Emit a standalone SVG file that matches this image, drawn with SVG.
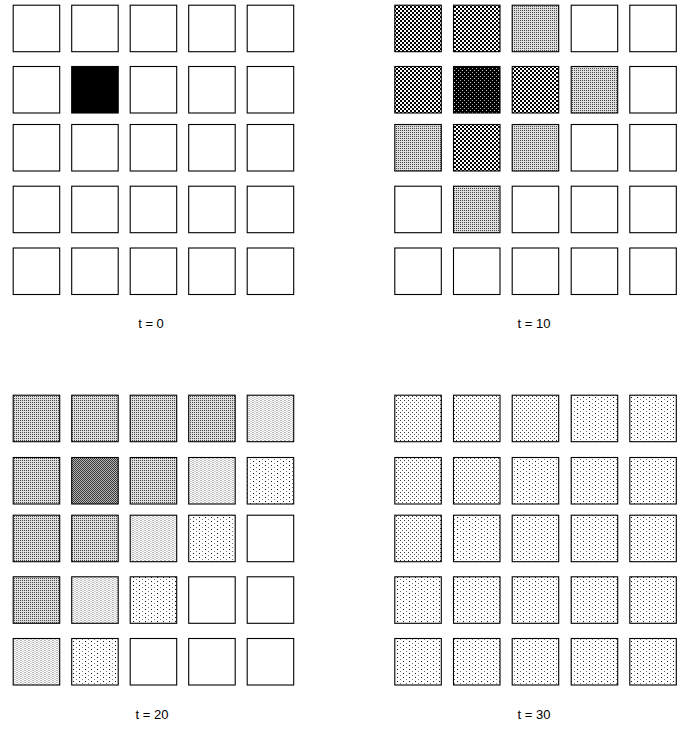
<svg xmlns="http://www.w3.org/2000/svg" width="694" height="730" viewBox="0 0 694 730">
<style>
rect.c{stroke:#000;stroke-width:1.1;}
.w{fill:#fff}.k{fill:#000}
.C{fill:url(#pC)}.V{fill:url(#pV)}.M{fill:url(#pM)}.D{fill:url(#pD)}.L{fill:url(#pL)}.S{fill:url(#pS)}.E{fill:url(#pE)}
text{font-family:"Liberation Sans",Arial,sans-serif;font-size:13px;fill:#000;text-anchor:middle}
</style>
<defs>
<pattern id="pC" width="4" height="4" patternUnits="userSpaceOnUse"><rect width="4" height="4" fill="#fff"/><rect width="2" height="2" fill="#000"/><rect x="2" y="2" width="2" height="2" fill="#000"/></pattern>
<pattern id="pV" width="4" height="4" patternUnits="userSpaceOnUse"><rect width="4" height="4" fill="#000"/><rect width="1" height="1" fill="#aaa"/><rect x="2" y="2" width="1" height="1" fill="#ccc"/></pattern>
<pattern id="pM" width="2" height="2" patternUnits="userSpaceOnUse"><rect width="2" height="2" fill="#dedede"/><rect width="1" height="1" fill="#4a4a4a"/></pattern>
<pattern id="pD" width="2" height="2" patternUnits="userSpaceOnUse"><rect width="2" height="2" fill="#b4b4b4"/><rect width="1" height="1" fill="#3a3a3a"/><rect x="1" y="1" width="1" height="1" fill="#3a3a3a"/></pattern>
<pattern id="pL" width="4" height="2" patternUnits="userSpaceOnUse"><rect width="4" height="2" fill="#fff"/><rect width="2" height="1" fill="#b8b8b8"/><rect x="2" y="1" width="2" height="1" fill="#d0d0d0"/></pattern>
<pattern id="pS" width="6" height="4" patternUnits="userSpaceOnUse"><rect width="6" height="4" fill="#fff"/><rect x="1" y="1" width="1" height="1" fill="#111"/><rect x="4" y="3" width="1" height="1" fill="#777"/></pattern>
<pattern id="pE" width="4" height="4" patternUnits="userSpaceOnUse"><rect width="4" height="4" fill="#fff"/><rect width="1" height="1" fill="#333"/><rect x="2" y="2" width="1" height="1" fill="#555"/></pattern>
</defs>

<g id="panel-t0">
<rect class="c w" x="13.2" y="5.2" width="46.5" height="46.5"/><rect class="c w" x="71.7" y="5.2" width="46.5" height="46.5"/><rect class="c w" x="130.2" y="5.2" width="46.5" height="46.5"/><rect class="c w" x="188.7" y="5.2" width="46.5" height="46.5"/><rect class="c w" x="247.2" y="5.2" width="46.5" height="46.5"/>
<rect class="c w" x="13.2" y="66.5" width="46.5" height="46.5"/><rect class="c k" x="71.7" y="66.5" width="46.5" height="46.5"/><rect class="c w" x="130.2" y="66.5" width="46.5" height="46.5"/><rect class="c w" x="188.7" y="66.5" width="46.5" height="46.5"/><rect class="c w" x="247.2" y="66.5" width="46.5" height="46.5"/>
<rect class="c w" x="13.2" y="124.5" width="46.5" height="46.5"/><rect class="c w" x="71.7" y="124.5" width="46.5" height="46.5"/><rect class="c w" x="130.2" y="124.5" width="46.5" height="46.5"/><rect class="c w" x="188.7" y="124.5" width="46.5" height="46.5"/><rect class="c w" x="247.2" y="124.5" width="46.5" height="46.5"/>
<rect class="c w" x="13.2" y="186.2" width="46.5" height="46.5"/><rect class="c w" x="71.7" y="186.2" width="46.5" height="46.5"/><rect class="c w" x="130.2" y="186.2" width="46.5" height="46.5"/><rect class="c w" x="188.7" y="186.2" width="46.5" height="46.5"/><rect class="c w" x="247.2" y="186.2" width="46.5" height="46.5"/>
<rect class="c w" x="13.2" y="248" width="46.5" height="46.5"/><rect class="c w" x="71.7" y="248" width="46.5" height="46.5"/><rect class="c w" x="130.2" y="248" width="46.5" height="46.5"/><rect class="c w" x="188.7" y="248" width="46.5" height="46.5"/><rect class="c w" x="247.2" y="248" width="46.5" height="46.5"/>
<text x="151" y="328">t = 0</text>
</g>

<g id="panel-t10">
<rect class="c C" x="394.8" y="5.2" width="46.5" height="46.5"/><rect class="c C" x="453.5" y="5.2" width="46.5" height="46.5"/><rect class="c M" x="512.2" y="5.2" width="46.5" height="46.5"/><rect class="c w" x="571.2" y="5.2" width="46.5" height="46.5"/><rect class="c w" x="629.8" y="5.2" width="46.5" height="46.5"/>
<rect class="c C" x="394.8" y="66.5" width="46.5" height="46.5"/><rect class="c V" x="453.5" y="66.5" width="46.5" height="46.5"/><rect class="c C" x="512.2" y="66.5" width="46.5" height="46.5"/><rect class="c M" x="571.2" y="66.5" width="46.5" height="46.5"/><rect class="c w" x="629.8" y="66.5" width="46.5" height="46.5"/>
<rect class="c M" x="394.8" y="124.5" width="46.5" height="46.5"/><rect class="c C" x="453.5" y="124.5" width="46.5" height="46.5"/><rect class="c M" x="512.2" y="124.5" width="46.5" height="46.5"/><rect class="c w" x="571.2" y="124.5" width="46.5" height="46.5"/><rect class="c w" x="629.8" y="124.5" width="46.5" height="46.5"/>
<rect class="c w" x="394.8" y="186.2" width="46.5" height="46.5"/><rect class="c M" x="453.5" y="186.2" width="46.5" height="46.5"/><rect class="c w" x="512.2" y="186.2" width="46.5" height="46.5"/><rect class="c w" x="571.2" y="186.2" width="46.5" height="46.5"/><rect class="c w" x="629.8" y="186.2" width="46.5" height="46.5"/>
<rect class="c w" x="394.8" y="248" width="46.5" height="46.5"/><rect class="c w" x="453.5" y="248" width="46.5" height="46.5"/><rect class="c w" x="512.2" y="248" width="46.5" height="46.5"/><rect class="c w" x="571.2" y="248" width="46.5" height="46.5"/><rect class="c w" x="629.8" y="248" width="46.5" height="46.5"/>
<text x="534" y="328">t = 10</text>
</g>

<g id="panel-t20">
<rect class="c M" x="13.2" y="395.2" width="46.5" height="46.5"/><rect class="c M" x="71.7" y="395.2" width="46.5" height="46.5"/><rect class="c M" x="130.2" y="395.2" width="46.5" height="46.5"/><rect class="c M" x="188.7" y="395.2" width="46.5" height="46.5"/><rect class="c L" x="247.2" y="395.2" width="46.5" height="46.5"/>
<rect class="c M" x="13.2" y="457.5" width="46.5" height="46.5"/><rect class="c D" x="71.7" y="457.5" width="46.5" height="46.5"/><rect class="c M" x="130.2" y="457.5" width="46.5" height="46.5"/><rect class="c L" x="188.7" y="457.5" width="46.5" height="46.5"/><rect class="c S" x="247.2" y="457.5" width="46.5" height="46.5"/>
<rect class="c M" x="13.2" y="515.2" width="46.5" height="46.5"/><rect class="c M" x="71.7" y="515.2" width="46.5" height="46.5"/><rect class="c L" x="130.2" y="515.2" width="46.5" height="46.5"/><rect class="c S" x="188.7" y="515.2" width="46.5" height="46.5"/><rect class="c w" x="247.2" y="515.2" width="46.5" height="46.5"/>
<rect class="c M" x="13.2" y="576.8" width="46.5" height="46.5"/><rect class="c L" x="71.7" y="576.8" width="46.5" height="46.5"/><rect class="c S" x="130.2" y="576.8" width="46.5" height="46.5"/><rect class="c w" x="188.7" y="576.8" width="46.5" height="46.5"/><rect class="c w" x="247.2" y="576.8" width="46.5" height="46.5"/>
<rect class="c L" x="13.2" y="638.5" width="46.5" height="46.5"/><rect class="c S" x="71.7" y="638.5" width="46.5" height="46.5"/><rect class="c w" x="130.2" y="638.5" width="46.5" height="46.5"/><rect class="c w" x="188.7" y="638.5" width="46.5" height="46.5"/><rect class="c w" x="247.2" y="638.5" width="46.5" height="46.5"/>
<text x="152" y="719">t = 20</text>
</g>

<g id="panel-t30">
<rect class="c E" x="394.8" y="395.2" width="46.5" height="46.5"/><rect class="c E" x="453.5" y="395.2" width="46.5" height="46.5"/><rect class="c E" x="512.2" y="395.2" width="46.5" height="46.5"/><rect class="c S" x="571.2" y="395.2" width="46.5" height="46.5"/><rect class="c S" x="629.8" y="395.2" width="46.5" height="46.5"/>
<rect class="c E" x="394.8" y="457.5" width="46.5" height="46.5"/><rect class="c E" x="453.5" y="457.5" width="46.5" height="46.5"/><rect class="c S" x="512.2" y="457.5" width="46.5" height="46.5"/><rect class="c S" x="571.2" y="457.5" width="46.5" height="46.5"/><rect class="c S" x="629.8" y="457.5" width="46.5" height="46.5"/>
<rect class="c E" x="394.8" y="515.2" width="46.5" height="46.5"/><rect class="c S" x="453.5" y="515.2" width="46.5" height="46.5"/><rect class="c S" x="512.2" y="515.2" width="46.5" height="46.5"/><rect class="c S" x="571.2" y="515.2" width="46.5" height="46.5"/><rect class="c S" x="629.8" y="515.2" width="46.5" height="46.5"/>
<rect class="c S" x="394.8" y="576.8" width="46.5" height="46.5"/><rect class="c S" x="453.5" y="576.8" width="46.5" height="46.5"/><rect class="c S" x="512.2" y="576.8" width="46.5" height="46.5"/><rect class="c S" x="571.2" y="576.8" width="46.5" height="46.5"/><rect class="c S" x="629.8" y="576.8" width="46.5" height="46.5"/>
<rect class="c S" x="394.8" y="638.5" width="46.5" height="46.5"/><rect class="c S" x="453.5" y="638.5" width="46.5" height="46.5"/><rect class="c S" x="512.2" y="638.5" width="46.5" height="46.5"/><rect class="c S" x="571.2" y="638.5" width="46.5" height="46.5"/><rect class="c S" x="629.8" y="638.5" width="46.5" height="46.5"/>
<text x="534" y="719">t = 30</text>
</g>
</svg>
